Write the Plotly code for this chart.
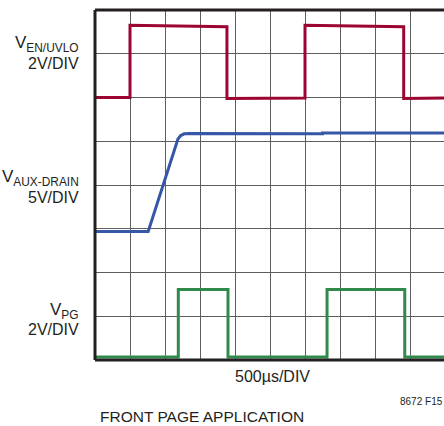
import plotly.graph_objects as go

# scope traces, in divisions (x: 0..10, y: 0..8 from the bottom)
en_x = [0, 1.0, 1.0, 3.77, 3.77, 6.0, 6.0, 8.82, 8.82, 10]
en_y = [6.0, 6.0, 7.65, 7.62, 5.98, 5.99, 7.65, 7.62, 5.98, 5.99]

aux_x = [0, 1.52, 2.37, 2.45, 2.55, 2.7, 6.5, 6.5, 10]
aux_y = [2.94, 2.94, 5.05, 5.13, 5.17, 5.18, 5.17, 5.19, 5.19]

pg_x = [0, 2.38, 2.38, 3.8, 3.8, 6.63, 6.63, 8.85, 8.85, 10]
pg_y = [0.07, 0.07, 1.61, 1.61, 0.07, 0.07, 1.61, 1.61, 0.07, 0.07]

W, H = 444, 426
L, T, B = 95, 10, 66
FONT = "Liberation Sans, Arial, sans-serif"


def px_x(px):
    return (px - L) / (W - L)


def px_y(py):
    return (H - B - py) / (H - B - T)


fig = go.Figure()
fig.add_trace(go.Scatter(x=en_x, y=en_y, mode="lines", line=dict(color="#9c0532", width=3)))
fig.add_trace(go.Scatter(x=aux_x, y=aux_y, mode="lines", line=dict(color="#3656a6", width=3)))
fig.add_trace(go.Scatter(x=pg_x, y=pg_y, mode="lines", line=dict(color="#2f8a4c", width=3)))

labels = [
    ("V<sub>EN/UVLO</sub>", 81, 44, 17, "right"),
    ("2V/DIV", 81, 64, 16, "right"),
    ("V<sub>AUX-DRAIN</sub>", 81, 178, 17, "right"),
    ("5V/DIV", 81, 197, 16, "right"),
    ("V<sub>PG</sub>", 81, 311, 17, "right"),
    ("2V/DIV", 81, 329, 16, "right"),
    ("500µs/DIV", 272.5, 377, 16, "center"),
    ("8672 F15", 445, 401, 10, "right"),
    ("FRONT PAGE APPLICATION", 98, 416, 15.5, "left"),
]
for text, x, y, size, anchor in labels:
    fig.add_annotation(
        text=text, xref="paper", yref="paper", x=px_x(x), y=px_y(y),
        xanchor=anchor, yanchor="middle", showarrow=False,
        font=dict(family=FONT, size=size, color="#231f20"),
    )

# heavy frame on left, top and bottom
for x0, y0, x1, y1 in [(0, 0, 0, 1), (0, 1, 1.02, 1), (0, 0, 1.02, 0)]:
    fig.add_shape(type="line", xref="paper", yref="paper", x0=x0, y0=y0, x1=x1, y1=y1,
                  line=dict(color="#231f20", width=3), layer="above")

fig.update_layout(
    width=W, height=H,
    margin=dict(l=L, r=0, t=T, b=B),
    paper_bgcolor="white", plot_bgcolor="white",
    showlegend=False,
    xaxis=dict(range=[0, (W - L) / 35], dtick=1, tick0=0, showticklabels=False,
               showgrid=True, gridcolor="#5e5e5e", gridwidth=1.3, zeroline=False, ticks=""),
    yaxis=dict(range=[0, 8], dtick=1, tick0=0, showticklabels=False,
               showgrid=True, gridcolor="#5e5e5e", gridwidth=1.3, zeroline=False, ticks=""),
)

fig.write_html("out.html", config={"displayModeBar": False},
               post_script="document.body.style.margin='0';")
